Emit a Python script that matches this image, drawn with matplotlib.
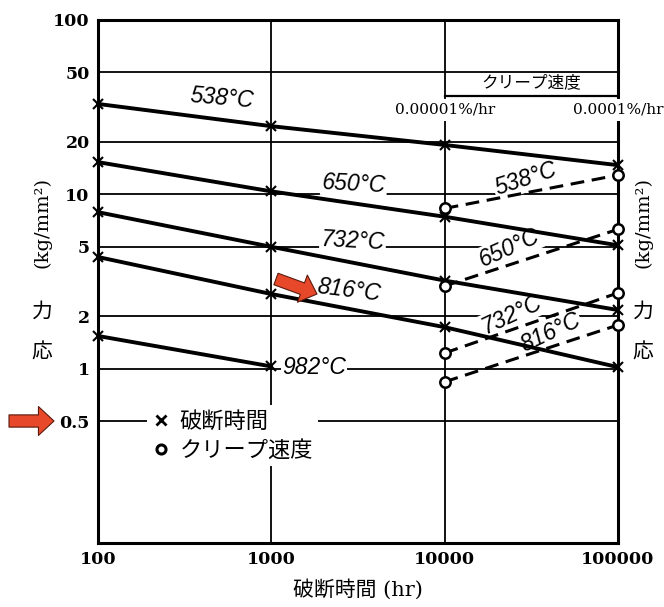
"""Creep-rupture chart: stress vs rupture time and creep rate, log-log."""

import matplotlib.pyplot as plt
from matplotlib.lines import Line2D

plt.rcParams["font.family"] = ["DejaVu Serif", "Noto Sans CJK JP"]

# rupture time (hr) vs stress (kg/mm2)
HOURS = [100, 1000, 10000, 100000]
RUPTURE_538 = [33.0, 24.6, 19.2, 14.7]
RUPTURE_650 = [15.3, 10.4, 7.44, 5.1]
RUPTURE_732 = [7.9, 5.0, 3.2, 2.17]
RUPTURE_816 = [4.37, 2.68, 1.73, 1.02]
HOURS_982 = [100, 1000]
RUPTURE_982 = [1.54, 1.03]

# creep rate columns: 0.00001%/hr drawn at 10000, 0.0001%/hr at 100000
RATE_HOURS = [10000, 100000]
RATE_LABELS = ["0.00001%/hr", "0.0001%/hr"]
CREEP_538 = [8.3, 12.9]
CREEP_650 = [2.98, 6.3]
CREEP_732 = [1.23, 2.72]
CREEP_816 = [0.84, 1.78]

X_TICKS = [100, 1000, 10000, 100000]
Y_TICKS = [0.5, 1, 2, 5, 10, 20, 50, 100]
Y_TICK_LABELS = ["0.5", "1", "2", "5", "10", "20", "50", "100"]

NARROW = ["Liberation Sans Narrow", "Liberation Sans", "DejaVu Sans"]
CJK = ["Noto Sans CJK JP", "DejaVu Sans"]
RED = "#e8482a"


def main() -> None:
    fig = plt.figure(figsize=(6.64, 6.07), dpi=100)
    ax = fig.add_axes([98 / 664, 64 / 607, 520 / 664, 523 / 607])
    ax.set_xscale("log")
    ax.set_yscale("log")
    ax.set_xlim(100, 100000)
    ax.set_ylim(0.1, 100)
    ax.set_xticks(X_TICKS, [str(v) for v in X_TICKS])
    ax.set_yticks(Y_TICKS, Y_TICK_LABELS)
    ax.minorticks_off()
    ax.tick_params(length=0, pad=6, labelsize=12.5)
    for lab in ax.get_xticklabels() + ax.get_yticklabels():
        lab.set_fontweight("bold")
    ax.grid(True, color="black", lw=1.3)
    ax.set_axisbelow(True)
    for sp in ax.spines.values():
        sp.set_linewidth(2.2)

    # rupture lines (solid, x markers)
    for xs, ys in [(HOURS, RUPTURE_538), (HOURS, RUPTURE_650), (HOURS, RUPTURE_732),
                   (HOURS, RUPTURE_816), (HOURS_982, RUPTURE_982)]:
        ax.plot(xs, ys, color="black", lw=2.8, solid_capstyle="butt", zorder=2)
        ax.plot(xs, ys, ls="none", marker="x", ms=7, mew=1.5, color="black",
                clip_on=False, zorder=4)

    # creep-rate lines (dashed, open circles)
    for ys in [CREEP_538, CREEP_650, CREEP_732, CREEP_816]:
        ax.plot(RATE_HOURS, ys, color="black", lw=2.2, dashes=(4.5, 2.5), zorder=2)
        ax.plot(RATE_HOURS, ys, ls="none", marker="o", ms=7.5, mew=1.8,
                mfc="white", mec="black", clip_on=False, zorder=4)

    white = dict(facecolor="white", edgecolor="none", pad=1)
    lab_kw = dict(fontsize=16.5, family=NARROW, style="italic", ha="center",
                  va="center", rotation_mode="anchor", bbox=white, zorder=1.5)
    ax.text(520, 35.7, "538°C", rotation=-5, **lab_kw)
    ax.text(2990, 11.5, "650°C", rotation=-3, **lab_kw)
    ax.text(2950, 5.4, "732°C", rotation=-3, **lab_kw)
    ax.text(2800, 2.82, "816°C", rotation=-7, **lab_kw)
    ax.text(1760, 1.02, "982°C", rotation=0, **lab_kw)
    ax.text(29300, 12.2, "538°C", rotation=18, **lab_kw)
    ax.text(23700, 4.92, "650°C", rotation=24, **lab_kw)
    ax.text(24300, 2.03, "732°C", rotation=25, **lab_kw)
    ax.text(40800, 1.60, "816°C", rotation=25, **lab_kw)

    # creep-rate header box
    ax.axhline(36.5, xmin=2 / 3, xmax=1, color="black", lw=1.6, zorder=1)
    ax.text((RATE_HOURS[0] * RATE_HOURS[1]) ** 0.5, 43.5, "クリープ速度",
            family=CJK, fontsize=12, ha="center", va="center")
    for x, s in zip(RATE_HOURS, RATE_LABELS):
        ax.text(x, 30.5, s, fontsize=11, ha="center", va="center",
                bbox=dict(facecolor="white", edgecolor="none", pad=3),
                zorder=3, clip_on=False)

    handles = [
        Line2D([], [], ls="none", marker="x", ms=7, mew=2, color="black"),
        Line2D([], [], ls="none", marker="o", ms=6.5, mew=2.2,
               mfc="white", mec="black"),
    ]
    leg = ax.legend(handles, ["破断時間", "クリープ速度"], loc="upper left",
                    bbox_to_anchor=(0.095, 0.264), prop={"family": CJK, "size": 16},
                    frameon=True, framealpha=1, facecolor="white", edgecolor="none",
                    fancybox=False, borderpad=0.2, handlelength=0.8,
                    handletextpad=0.45, labelspacing=0.3, borderaxespad=0)
    leg.set_zorder(5)

    ax.set_xlabel("破断時間 (hr)", fontsize=15, labelpad=8)

    # vertical stress labels on both sides
    for fx in (42 / 664, 643 / 664):
        fig.text(fx, 1 - 353 / 607, "応", family=CJK, fontsize=15,
                 ha="center", va="center")
        fig.text(fx, 1 - 312 / 607, "力", family=CJK, fontsize=15,
                 ha="center", va="center")
        fig.text(fx, 1 - 222 / 607, "(kg/mm²)", fontsize=14, rotation=90,
                 ha="center", va="center")

    # red pointer arrows
    arrow = dict(arrowstyle="simple,head_length=0.7,head_width=1.3,tail_width=0.55",
                 fc=RED, ec="#5a1a0e", lw=0.8, shrinkA=0, shrinkB=0,
                 mutation_scale=16)
    ax.annotate("", xy=(54, 186), xytext=(9, 186), xycoords="figure pixels",
                textcoords="figure pixels", arrowprops=arrow, annotation_clip=False)
    ax.annotate("", xy=(317, 313), xytext=(276, 328), xycoords="figure pixels",
                textcoords="figure pixels", arrowprops=arrow, annotation_clip=False)

    fig.savefig("out.png", dpi=100)
    plt.close(fig)


if __name__ == "__main__":
    main()
